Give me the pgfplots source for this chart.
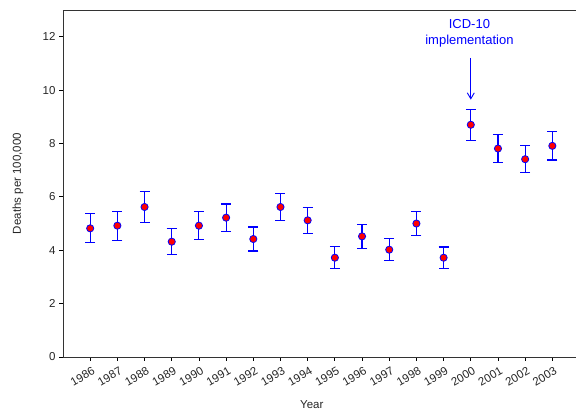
\documentclass[border=0pt]{standalone}
\usepackage{pgfplots}
\pgfplotsset{compat=1.18}
\usepackage{fontspec}
\setmainfont{Liberation Sans}
\usetikzlibrary{arrows.meta}

\begin{document}
\begin{tikzpicture}
\useasboundingbox (-63pt,-54pt) rectangle (513pt,357pt);
\begin{axis}[
    anchor=south west, at={(0,0)},
    scale only axis,
    width=513pt, height=347pt,
    xmin=1985, xmax=2003.87,
    ymin=0, ymax=13,
    axis x line*=box, axis y line*=left,
    xtick={1986,...,2003},
    ytick={0,2,...,12},
    xtick pos=bottom, ytick pos=left,
    tick align=outside,
    major tick length=4pt,
    tick style={black, line width=0.8pt},
    axis line style={line width=0.8pt, black!80},
    /pgf/number format/assume math mode=true,
    /pgf/number format/1000 sep={},
    ticklabel style={font=\fontsize{11.5}{13}\selectfont, text=black!85},
    x tick label style={rotate=30, anchor=north east, xshift=2pt, yshift=-2pt},
    xlabel={Year},
    ylabel={Deaths per 100,000},
    label style={font=\fontsize{11.5}{13}\selectfont, text=black!85},
    xlabel style={at={(axis description cs:0.485,0)}, anchor=center, yshift=-48pt},
    ylabel style={at={(axis description cs:-0.088,0.5)}, anchor=center},
    clip=false,
]
\addplot[
    only marks,
    mark=*, mark size=3.6pt,
    mark options={fill=red, draw=blue, line width=0.8pt},
    error bars/.cd, y dir=both, y explicit,
    error bar style={blue, line width=1.1pt},
    error mark options={rotate=90, mark size=5pt, line width=1.1pt, blue},
] table[x=year, y=rate, y error=err] {
year rate err
1986 4.82 0.54
1987 4.92 0.54
1988 5.62 0.57
1989 4.32 0.49
1990 4.92 0.52
1991 5.22 0.51
1992 4.42 0.45
1993 5.62 0.51
1994 5.12 0.49
1995 3.72 0.41
1996 4.52 0.44
1997 4.02 0.41
1998 5.00 0.45
1999 3.72 0.40
2000 8.70 0.58
2001 7.81 0.54
2002 7.41 0.51
2003 7.91 0.53
};
\draw[blue, line width=0.9pt, -{Straight Barb[length=6pt, width=7pt]}]
    (axis cs:2000,11.21) -- (axis cs:2000,9.64);
\node[blue, align=center, font=\fontsize{13}{15.5}\selectfont, inner sep=0pt]
    at (axis cs:1999.95,12.12) {ICD-10\\implementation};
\end{axis}
\end{tikzpicture}
\end{document}
